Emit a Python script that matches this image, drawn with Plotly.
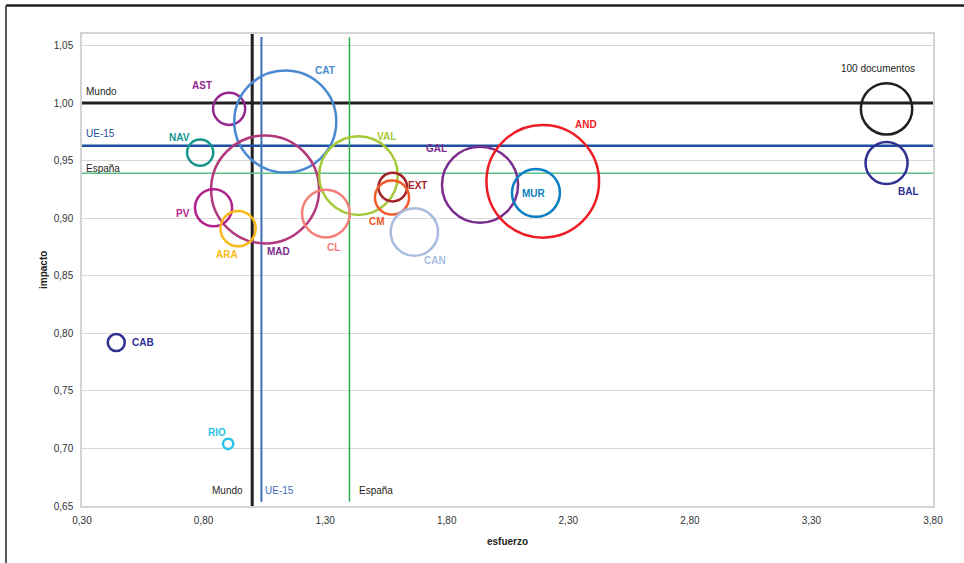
import plotly.graph_objects as go

# ---------------- data ----------------
regiones = ["AST", "CAT", "NAV", "MAD", "PV", "ARA", "VAL", "CL", "EXT", "CM",
            "CAN", "GAL", "AND", "MUR", "BAL", "CAB", "RIO"]
esfuerzo = [0.905, 1.136, 0.786, 1.053, 0.841, 0.942, 1.437, 1.303, 1.578, 1.575,
            1.667, 1.937, 2.195, 2.167, 3.609, 0.441, 0.901]
impacto = [0.995, 0.984, 0.957, 0.925, 0.909, 0.891, 0.937, 0.904, 0.927, 0.918,
           0.888, 0.929, 0.932, 0.922, 0.948, 0.792, 0.704]
documentos = [39, 394, 26, 441, 52, 47, 234, 86, 31, 44,
              85, 219, 480, 87, 67, 11, 4]

ref_bubble_label = "100 documentos"
ref_bubble_docs = 100
ref_bubble_x = 3.609
ref_bubble_y = 0.995

ref_names = ["Mundo", "UE-15", "España"]
ref_esfuerzo = [1.00, 1.038, 1.40]
ref_impacto = [1.00, 0.963, 0.939]

x_ticks = [0.30, 0.80, 1.30, 1.80, 2.30, 2.80, 3.30, 3.80]
y_ticks = [0.65, 0.70, 0.75, 0.80, 0.85, 0.90, 0.95, 1.00, 1.05]

# ---------------- styles ----------------
circle_colors = ["#93278F", "#4A89CF", "#16968F", "#B23A7C", "#B0228C", "#FBB917",
                 "#A6C93A", "#F37F7A", "#A3232A", "#F15A29", "#A9BCE0", "#7B2E8F",
                 "#EE1D25", "#0A7FC2", "#2E3192", "#2E3192", "#29C4E9"]
label_colors = list(circle_colors)
label_colors[3] = "#7A2A8C"  # MAD label is purple
# label offsets in pixels (dx right, dy up) relative to bubble centre
label_dx = [-27, 40, -21, 13, -31, -11, 28, 8, 25, -15, 21, -44, 43, -2, 22, 27, -11]
label_dy = [23, 51, 15, -62, -6, -26, 39, -34, 2, -24, -28, 36, 57, -1, -29, 0, 11]

FONT = "Liberation Sans, Arial, Helvetica, sans-serif"
TXT = "#231F20"

x_min, x_max = 0.30, 3.80
y_min, y_max = 0.65, 1.06

ML, MR, MT, MB = 82, 31, 34, 57
W, H = 964, 563
pw, ph = W - ML - MR, H - MT - MB

# bubble scale: 100 documents -> radius 25.7 px
sizeref = ref_bubble_docs / (2 * 25.7 ** 2)

fig = go.Figure()

# reference lines
h_styles = [("#231F20", 3), ("#1F4E9E", 2.5), ("#5CC287", 1.5)]
v_styles = [("#231F20", 3), ("#3E6DB8", 2), ("#2BAA52", 1.5)]
v_spans = [(y_min, y_max), (0.6536, 1.0575), (0.6538, 1.0572)]
for i, name in enumerate(ref_names):
    c, w = h_styles[i]
    fig.add_trace(go.Scatter(x=[x_min, x_max], y=[ref_impacto[i]] * 2, mode="lines",
                             line=dict(color=c, width=w), hoverinfo="skip", showlegend=False,
                             cliponaxis=False))
    c, w = v_styles[i]
    fig.add_trace(go.Scatter(x=[ref_esfuerzo[i]] * 2, y=list(v_spans[i]), mode="lines",
                             line=dict(color=c, width=w), hoverinfo="skip", showlegend=False,
                             cliponaxis=False))

# bubbles
fig.add_trace(go.Scatter(
    x=esfuerzo + [ref_bubble_x], y=impacto + [ref_bubble_y], mode="markers",
    marker=dict(size=documentos + [ref_bubble_docs], sizemode="area", sizeref=sizeref,
                color="rgba(0,0,0,0)", opacity=1,
                line=dict(color=circle_colors + ["#231F20"], width=2.5)),
    text=regiones + [ref_bubble_label], hoverinfo="text", showlegend=False,
    cliponaxis=False))

annotations = []
for i, r in enumerate(regiones):
    annotations.append(dict(x=esfuerzo[i], y=impacto[i], xref="x", yref="y", text=r,
                            showarrow=False, xshift=label_dx[i], yshift=label_dy[i],
                            font=dict(family=FONT, size=10, color=label_colors[i], weight="bold")))
annotations.append(dict(x=ref_bubble_x, y=ref_bubble_y, xref="x", yref="y", text=ref_bubble_label,
                        showarrow=False, xshift=-9, yshift=40,
                        font=dict(family=FONT, size=10, color=TXT)))

# reference-line labels (left side, horizontal lines)
h_lab_colors = [TXT, "#1F4E9E", TXT]
h_lab_dy = [12, 12, 5]
for i, name in enumerate(ref_names):
    annotations.append(dict(x=x_min, y=ref_impacto[i], xref="x", yref="y", text=name,
                            showarrow=False, xanchor="left", xshift=2, yshift=h_lab_dy[i],
                            font=dict(family=FONT, size=10, color=h_lab_colors[i])))
# reference-line labels (bottom, vertical lines)
v_lab_colors = [TXT, "#3E6DB8", TXT]
v_lab_anchor = ["right", "left", "left"]
v_lab_dx = [-7, 2, 8]
for i, name in enumerate(ref_names):
    annotations.append(dict(x=ref_esfuerzo[i], y=y_min, xref="x", yref="y", text=name,
                            showarrow=False, xanchor=v_lab_anchor[i], xshift=v_lab_dx[i], yshift=16,
                            font=dict(family=FONT, size=10, color=v_lab_colors[i])))

# axis titles
annotations.append(dict(x=0.5, y=0, xref="paper", yref="paper", text="esfuerzo", showarrow=False,
                        yanchor="middle", yshift=-35,
                        font=dict(family=FONT, size=10, color=TXT, weight="bold")))
annotations.append(dict(x=0, y=0.5, xref="paper", yref="paper", text="impacto", showarrow=False,
                        xanchor="center", xshift=-39, textangle=-90,
                        font=dict(family=FONT, size=10, color=TXT, weight="bold")))

# outer frame lines (top black, left grey)
top_y = (H - MB - 5.5) / ph
left_x = (6 - ML) / pw
shapes = [
    dict(type="line", xref="paper", yref="paper", x0=left_x, x1=(W - ML) / pw, y0=top_y, y1=top_y,
         line=dict(color="#231F20", width=2.5)),
    dict(type="line", xref="paper", yref="paper", x0=left_x, x1=left_x, y0=top_y, y1=-MB / ph - 0.01,
         line=dict(color="#5A5A5A", width=2)),
]

fig.update_layout(
    width=W, height=H,
    margin=dict(l=ML, r=MR, t=MT, b=MB),
    paper_bgcolor="white", plot_bgcolor="white",
    separators=", ",
    font=dict(family=FONT, size=10, color="#333333"),
    annotations=annotations, shapes=shapes,
    xaxis=dict(range=[x_min, x_max], tickvals=x_ticks, ticktext=[f"{v:.2f}".replace(".", ",") for v in x_ticks],
               showgrid=False, zeroline=False, showline=True, linecolor="#D4D4D4", linewidth=1.5,
               mirror=True, ticks="outside", ticklen=4, tickcolor="rgba(0,0,0,0)",
               tickfont=dict(family=FONT, size=10, color="#333333")),
    yaxis=dict(range=[y_min, y_max], tickvals=y_ticks, ticktext=[f"{v:.2f}".replace(".", ",") for v in y_ticks],
               showgrid=True, gridcolor="#D9D9D9", gridwidth=1, zeroline=False, showline=True,
               linecolor="#D4D4D4", linewidth=1.5, mirror=True, ticks="outside", ticklen=5,
               tickcolor="rgba(0,0,0,0)", tickfont=dict(family=FONT, size=10, color="#333333")),
)

fig.write_html("out.html", config={"displayModeBar": False},
               post_script="document.body.style.margin='0px';")
